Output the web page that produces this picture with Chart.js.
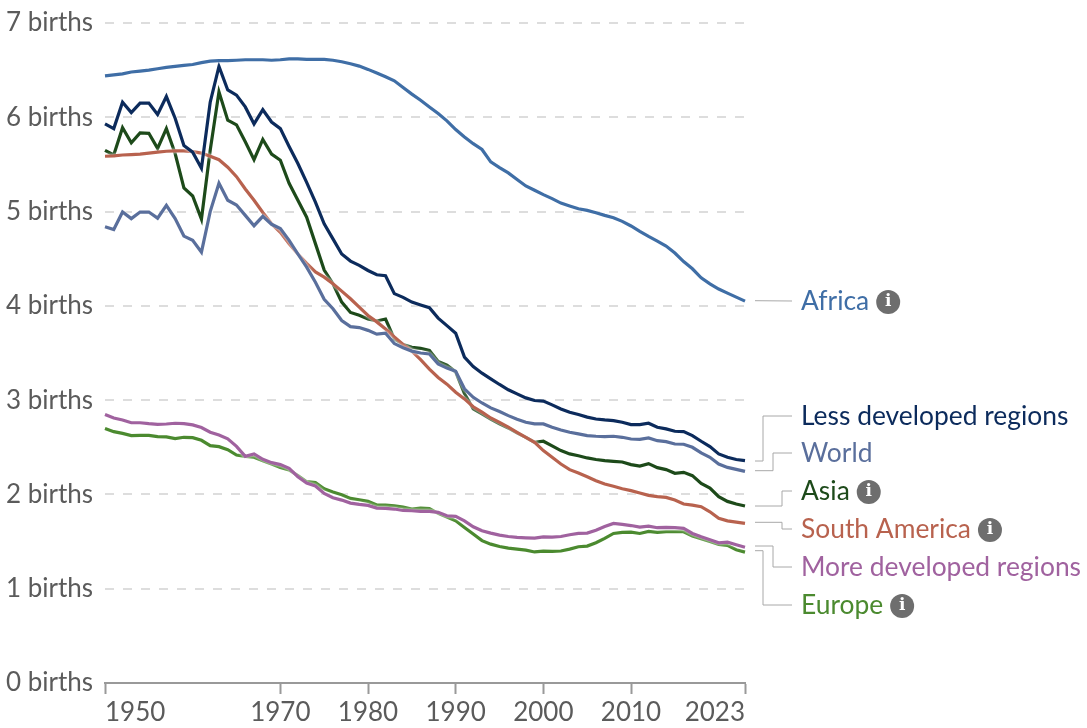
<!DOCTYPE html>
<html>
<head>
<meta charset="utf-8">
<title>Fertility rate</title>
<script src="https://cdn.jsdelivr.net/npm/chart.js@4"></script>
<style>
  html, body { margin: 0; padding: 0; background: #fff; }
  #wrap { position: relative; width: 1087px; height: 728px; }
  canvas { display: block; }
</style>
</head>
<body>
<div id="wrap"><canvas id="chart" width="1087" height="728"></canvas></div>
<script>
// 1950 ... 2023
const years = [
  1950, 1951, 1952, 1953, 1954, 1955, 1956, 1957, 1958, 1959,
  1960, 1961, 1962, 1963, 1964, 1965, 1966, 1967, 1968, 1969,
  1970, 1971, 1972, 1973, 1974, 1975, 1976, 1977, 1978, 1979,
  1980, 1981, 1982, 1983, 1984, 1985, 1986, 1987, 1988, 1989,
  1990, 1991, 1992, 1993, 1994, 1995, 1996, 1997, 1998, 1999,
  2000, 2001, 2002, 2003, 2004, 2005, 2006, 2007, 2008, 2009,
  2010, 2011, 2012, 2013, 2014, 2015, 2016, 2017, 2018, 2019,
  2020, 2021, 2022, 2023
];

const africa = [
  6.44, 6.45, 6.46, 6.48, 6.49, 6.50, 6.515, 6.53, 6.54, 6.55,
  6.56, 6.58, 6.595, 6.60, 6.60, 6.605, 6.61, 6.61, 6.61, 6.605,
  6.61, 6.62, 6.62, 6.615, 6.615, 6.615, 6.605, 6.589, 6.568, 6.543,
  6.508, 6.469, 6.43, 6.387, 6.316, 6.246, 6.18, 6.11, 6.04, 5.962,
  5.87, 5.792, 5.72, 5.658, 5.527, 5.467, 5.41, 5.34, 5.272, 5.226,
  5.18, 5.137, 5.09, 5.06, 5.03, 5.013, 4.988, 4.96, 4.935, 4.896,
  4.847, 4.79, 4.737, 4.687, 4.634, 4.56, 4.47, 4.393, 4.298, 4.234,
  4.178, 4.135, 4.093, 4.05
];
const lessDeveloped = [
  5.93, 5.88, 6.16, 6.05, 6.15, 6.15, 6.03, 6.22, 5.99, 5.70,
  5.63, 5.46, 6.16, 6.54, 6.29, 6.235, 6.11, 5.93, 6.08, 5.95,
  5.88, 5.69, 5.51, 5.31, 5.10, 4.87, 4.71, 4.55, 4.475, 4.43,
  4.375, 4.33, 4.32, 4.13, 4.09, 4.04, 4.01, 3.98, 3.87, 3.79,
  3.71, 3.456, 3.357, 3.286, 3.226, 3.166, 3.11, 3.066, 3.024, 2.996,
  2.99, 2.95, 2.907, 2.872, 2.847, 2.82, 2.80, 2.79, 2.783, 2.765,
  2.74, 2.74, 2.755, 2.713, 2.695, 2.67, 2.666, 2.624, 2.564, 2.507,
  2.43, 2.394, 2.37, 2.358
];
const world = [
  4.84, 4.81, 4.995, 4.925, 4.995, 4.995, 4.93, 5.066, 4.925, 4.74,
  4.695, 4.57, 5.0, 5.30, 5.12, 5.07, 4.96, 4.85, 4.95, 4.865,
  4.82, 4.695, 4.55, 4.41, 4.25, 4.07, 3.97, 3.845, 3.78, 3.77,
  3.74, 3.70, 3.71, 3.60, 3.555, 3.52, 3.50, 3.49, 3.385, 3.34,
  3.307, 3.12, 3.03, 2.97, 2.918, 2.879, 2.836, 2.797, 2.765, 2.748,
  2.748, 2.713, 2.684, 2.66, 2.642, 2.624, 2.617, 2.613, 2.617, 2.606,
  2.588, 2.585, 2.60, 2.57, 2.56, 2.535, 2.532, 2.50, 2.44, 2.394,
  2.323, 2.287, 2.266, 2.245
];
const asia = [
  5.65, 5.60, 5.89, 5.73, 5.835, 5.83, 5.67, 5.88, 5.615, 5.25,
  5.165, 4.92, 5.65, 6.27, 5.97, 5.92, 5.74, 5.55, 5.765, 5.61,
  5.545, 5.30, 5.12, 4.94, 4.66, 4.38, 4.235, 4.04, 3.93, 3.90,
  3.86, 3.84, 3.86, 3.65, 3.59, 3.56, 3.55, 3.527, 3.41, 3.37,
  3.30, 3.07, 2.907, 2.854, 2.80, 2.748, 2.705, 2.652, 2.606, 2.553,
  2.564, 2.514, 2.465, 2.43, 2.41, 2.387, 2.37, 2.358, 2.351, 2.344,
  2.316, 2.30, 2.327, 2.284, 2.263, 2.224, 2.234, 2.199, 2.117, 2.068,
  1.976, 1.926, 1.898, 1.877
];
const southAmerica = [
  5.587, 5.59, 5.60, 5.605, 5.61, 5.62, 5.63, 5.64, 5.643, 5.643,
  5.636, 5.62, 5.587, 5.55, 5.47, 5.37, 5.24, 5.12, 4.99, 4.87,
  4.78, 4.66, 4.55, 4.45, 4.36, 4.305, 4.235, 4.156, 4.075, 3.986,
  3.898, 3.83, 3.755, 3.67, 3.59, 3.52, 3.43, 3.33, 3.24, 3.17,
  3.084, 3.013, 2.93, 2.872, 2.811, 2.765, 2.713, 2.659, 2.606, 2.553,
  2.465, 2.394, 2.323, 2.263, 2.227, 2.188, 2.146, 2.11, 2.086, 2.06,
  2.04, 2.015, 1.99, 1.976, 1.969, 1.94, 1.898, 1.887, 1.87, 1.816,
  1.746, 1.72, 1.707, 1.693
];
const moreDeveloped = [
  2.847, 2.81, 2.79, 2.76, 2.76, 2.75, 2.744, 2.747, 2.755, 2.75,
  2.737, 2.71, 2.66, 2.63, 2.59, 2.51, 2.404, 2.43, 2.372, 2.337,
  2.316, 2.277, 2.188, 2.12, 2.09, 2.01, 1.965, 1.94, 1.908, 1.894,
  1.884, 1.855, 1.852, 1.845, 1.83, 1.827, 1.82, 1.82, 1.81, 1.774,
  1.767, 1.72, 1.657, 1.615, 1.59, 1.569, 1.554, 1.544, 1.54, 1.537,
  1.55, 1.547, 1.554, 1.572, 1.586, 1.59, 1.62, 1.66, 1.692, 1.682,
  1.67, 1.654, 1.664, 1.647, 1.65, 1.647, 1.64, 1.586, 1.55, 1.52,
  1.487, 1.494, 1.466, 1.44
];
const europe = [
  2.70, 2.666, 2.648, 2.624, 2.627, 2.627, 2.613, 2.61, 2.592, 2.606,
  2.602, 2.574, 2.517, 2.507, 2.475, 2.418, 2.404, 2.394, 2.358, 2.323,
  2.287, 2.259, 2.20, 2.135, 2.125, 2.06, 2.025, 1.997, 1.958, 1.944,
  1.926, 1.887, 1.887, 1.88, 1.865, 1.845, 1.855, 1.85, 1.80, 1.76,
  1.72, 1.65, 1.58, 1.51, 1.473, 1.448, 1.43, 1.42, 1.409, 1.39,
  1.398, 1.395, 1.40, 1.42, 1.445, 1.452, 1.487, 1.533, 1.586, 1.597,
  1.60, 1.586, 1.607, 1.597, 1.604, 1.604, 1.604, 1.56, 1.53, 1.50,
  1.47, 1.459, 1.413, 1.388
];

const xTicks = [1950, 1970, 1980, 1990, 2000, 2010, 2023];
const yTicks = [0, 1, 2, 3, 4, 5, 6, 7];

const colors = {
  africa: '#3f6ea6',
  less: '#0c2b5c',
  world: '#5a6f9c',
  asia: '#1d4a1a',
  southAmerica: '#b8624e',
  more: '#a0629f',
  europe: '#4b8a2f'
};
const FONT = 'Lato, "Noto Sans", sans-serif';

function series(label, values, color) {
  return {
    label: label,
    data: values.map((v, i) => ({ x: years[i], y: v })),
    borderColor: color,
    borderWidth: 3.2,
    pointRadius: 0,
    tension: 0,
    fill: false,
    clip: false
  };
}

// 線尾標籤: y 是文字中心, elbow 是折線的轉折位置
const endLabels = [
  { text: 'Africa', color: colors.africa, y: 301, from: 300.7, elbow: null, info: true },
  { text: 'Less developed regions', color: colors.less, y: 416, from: 461, elbow: 763, info: false },
  { text: 'World', color: colors.world, y: 453, from: 470.7, elbow: 773, info: false },
  { text: 'Asia', color: colors.asia, y: 491, from: 506, elbow: 782, info: true },
  { text: 'South America', color: colors.southAmerica, y: 529, from: 522.3, elbow: 782, info: true },
  { text: 'More developed regions', color: colors.more, y: 567, from: 546, elbow: 773, info: false },
  { text: 'Europe', color: colors.europe, y: 605, from: 550.7, elbow: 763, info: true }
];

const lineLabels = {
  id: 'lineLabels',
  afterDraw(chart) {
    const ctx = chart.ctx;
    ctx.save();
    endLabels.forEach(l => {
      // 連接線
      ctx.strokeStyle = '#a8a8a8';
      ctx.lineWidth = 1;
      ctx.beginPath();
      ctx.moveTo(755, l.from);
      if (l.elbow !== null) {
        ctx.lineTo(l.elbow, l.from);
        ctx.lineTo(l.elbow, l.y);
      }
      ctx.lineTo(792, l.y);
      ctx.stroke();

      ctx.font = '26.4px ' + FONT;
      ctx.textAlign = 'left';
      ctx.textBaseline = 'middle';
      ctx.fillStyle = l.color;
      ctx.fillText(l.text, 801, l.y);

      if (l.info) {
        const cx = 801 + ctx.measureText(l.text).width + 19;
        ctx.fillStyle = '#6e6e6e';
        ctx.beginPath();
        ctx.arc(cx, l.y + 1, 12, 0, Math.PI * 2);
        ctx.fill();
        ctx.fillStyle = '#fff';
        ctx.font = 'bold 17px "DejaVu Serif", serif';
        ctx.textAlign = 'center';
        ctx.fillText('i', cx, l.y + 1);
      }
    });
    ctx.restore();
  }
};

// 線條的白色外框
const lineHalo = {
  id: 'lineHalo',
  beforeDatasetDraw(chart) {
    chart.ctx.save();
    chart.ctx.shadowColor = '#fff';
    chart.ctx.shadowBlur = 3;
  },
  afterDatasetDraw(chart) {
    chart.ctx.restore();
  }
};

new Chart(document.getElementById('chart').getContext('2d'), {
  type: 'line',
  data: {
    datasets: [
      series('Africa', africa, colors.africa),
      series('More developed regions', moreDeveloped, colors.more),
      series('Less developed regions', lessDeveloped, colors.less),
      series('World', world, colors.world),
      series('South America', southAmerica, colors.southAmerica),
      series('Asia', asia, colors.asia),
      series('Europe', europe, colors.europe)
    ]
  },
  options: {
    responsive: false,
    animation: false,
    devicePixelRatio: 1,
    layout: { padding: { top: 23, right: 342, bottom: 0, left: 0 } },
    plugins: { legend: { display: false }, tooltip: { enabled: false } },
    scales: {
      x: {
        type: 'linear',
        min: 1950,
        max: 2023,
        afterBuildTicks: scale => { scale.ticks = xTicks.map(v => ({ value: v })); },
        afterFit: scale => { scale.height = 45; },
        grid: { drawOnChartArea: false, color: '#999', tickLength: 11, tickWidth: 2, tickColor: '#999' },
        border: { display: true, color: '#999', width: 2 },
        ticks: {
          align: 'inner',
          autoSkip: false,
          maxRotation: 0,
          padding: 3,
          color: '#5b5b5b',
          font: { family: FONT, size: 26 },
          callback: v => String(v)
        }
      },
      y: {
        min: 0,
        max: 7,
        afterBuildTicks: scale => { scale.ticks = yTicks.map(v => ({ value: v })); },
        afterFit: scale => {
          scale.width = 105;
          // 不讓刻度文字影響圖表上下邊界
          scale.paddingTop = 0;
          scale.paddingBottom = 0;
        },
        grid: {
          drawTicks: false,
          lineWidth: 2,
          color: c => (c.tick && c.tick.value === 0 ? 'rgba(0,0,0,0)' : '#dddddd')
        },
        border: { display: false, dash: [9, 9] },
        ticks: {
          padding: 12,
          color: '#5b5b5b',
          font: { family: FONT, size: 26 },
          callback: v => v + ' births'
        }
      }
    }
  },
  plugins: [lineHalo, lineLabels]
});
</script>
</body>
</html>
